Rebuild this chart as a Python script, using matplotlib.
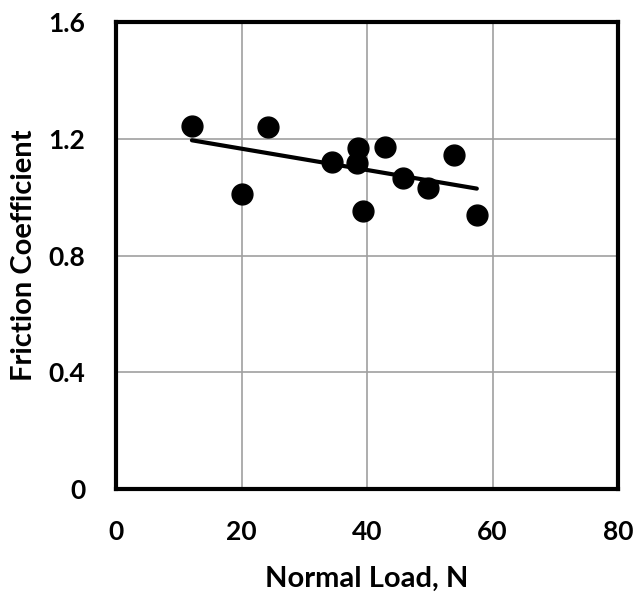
import numpy as np
import matplotlib
matplotlib.use('Agg')
import matplotlib.pyplot as plt

# datos
carga = [12.1, 24.2, 20.1, 34.5, 38.6, 38.4, 39.4, 42.9, 45.8, 49.7, 53.8, 57.5]
friccion = [1.245, 1.239, 1.009, 1.120, 1.168, 1.117, 0.952, 1.173, 1.065, 1.030, 1.143, 0.939]

xticks = [0, 20, 40, 60, 80]
yticks = [0, 0.4, 0.8, 1.2, 1.6]
yticklabels = ['0', '0.4', '0.8', '1.2', '1.6']

plt.rcParams['font.family'] = ['Lato', 'DejaVu Sans']
plt.rcParams['font.weight'] = 'bold'

fig = plt.figure(figsize=(6.34, 5.94), dpi=100)
# ejes: izq 116px, der 618px, arriba 22px, abajo 489px
ax = fig.add_axes([116 / 634, 105 / 594, 502 / 634, 467 / 594])

# linea de tendencia lineal
m, b = np.polyfit(carga, friccion, 1)
xs = np.array([min(carga), max(carga)])
ax.plot(xs, m * xs + b, color='black', linewidth=3.0, solid_capstyle='round', zorder=3)

ax.plot(carga, friccion, 'o', color='black', markersize=15, zorder=4)

ax.set_xlim(0, 80)
ax.set_ylim(0, 1.6)
ax.set_xticks(xticks)
ax.set_yticks(yticks)
ax.set_yticklabels(yticklabels)
ax.grid(True, color='#a0a0a0', linewidth=1.2)
ax.set_axisbelow(True)
ax.tick_params(length=0, labelsize=19, pad=22)
ax.tick_params(axis='y', pad=22)
for s in ax.spines.values():
    s.set_linewidth(3)
    s.set_color('black')

ax.set_xlabel('Normal Load, N', fontsize=21, fontweight='bold', labelpad=16)
ax.set_ylabel('Friction Coefficient', fontsize=21, fontweight='bold', labelpad=8)

plt.savefig('out.png', dpi=100)
